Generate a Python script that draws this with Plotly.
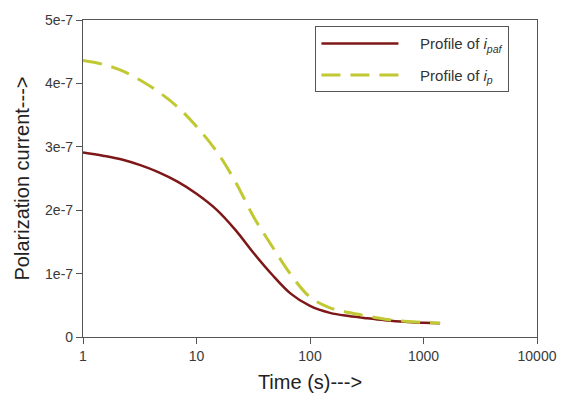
import plotly.graph_objects as go

# Time (s) and polarization current values
t_paf = [1, 1.5, 2.2, 3.2, 4.6, 6.8, 10, 15, 22, 32, 46, 68, 100, 150, 220, 320, 460, 680, 1000, 1400]
i_paf = [2.91e-7, 2.86e-7, 2.80e-7, 2.71e-7, 2.60e-7, 2.45e-7, 2.26e-7, 2.01e-7,
         1.69e-7, 1.32e-7, 0.99e-7, 0.68e-7, 0.49e-7, 0.38e-7, 0.33e-7, 0.295e-7,
         0.265e-7, 0.24e-7, 0.225e-7, 0.215e-7]

t_p = [1, 1.5, 2.2, 3.2, 4.6, 6.8, 10, 15, 22, 32, 46, 68, 100, 150, 220, 320, 460, 680, 1000, 1400]
i_p = [4.36e-7, 4.30e-7, 4.20e-7, 4.05e-7, 3.87e-7, 3.63e-7, 3.32e-7, 2.93e-7,
       2.45e-7, 1.89e-7, 1.44e-7, 0.98e-7, 0.63e-7, 0.46e-7, 0.385e-7, 0.33e-7,
       0.28e-7, 0.25e-7, 0.23e-7, 0.22e-7]

x_ticks = [1, 10, 100, 1000, 10000]
x_tick_labels = ["1", "10", "100", "1000", "10000"]
y_ticks = [0, 1e-7, 2e-7, 3e-7, 4e-7, 5e-7]
y_tick_labels = ["0", "1e-7", "2e-7", "3e-7", "4e-7", "5e-7"]

fig = go.Figure()
fig.add_trace(go.Scatter(
    x=t_paf, y=i_paf, mode="lines", line_shape="spline", legendgroup="a",
    name="\u00a0\u00a0\u00a0\u00a0Profile of <i>i</i><sub><i>paf</i></sub>",
    line=dict(color="#7E1818", width=2.5, smoothing=1)))
fig.add_trace(go.Scatter(
    x=t_p, y=i_p, mode="lines", line_shape="spline", legendgroup="b",
    name="\u00a0\u00a0\u00a0\u00a0Profile of <i>i</i><sub><i>p</i></sub>",
    line=dict(color="#C0C832", width=3, dash="19px,10px", smoothing=1)))

axis_font = dict(family="Liberation Sans, Arial, sans-serif", size=14, color="#3a3a3a")
fig.update_layout(
    width=569, height=402,
    margin=dict(l=83, r=22, t=13, b=65),
    paper_bgcolor="white", plot_bgcolor="white",
    font=dict(family="Liberation Sans, Arial, sans-serif", color="#222222"),
    xaxis=dict(type="log", range=[0, 4], tickvals=x_ticks, ticktext=x_tick_labels,
               ticks="outside", ticklen=6, tickcolor="#555555", showgrid=False,
               zeroline=False, showline=True, linecolor="#555555", linewidth=1.2,
               mirror=True, tickfont=axis_font,
               title=dict(text="Time (s)--->", font=dict(size=20, color="#222222"), standoff=12)),
    yaxis=dict(range=[0, 5e-7], tickvals=y_ticks, ticktext=y_tick_labels,
               ticks="outside", ticklen=6, tickcolor="#555555", showgrid=False,
               zeroline=False, showline=True, linecolor="#555555", linewidth=1.2,
               mirror=True, tickfont=axis_font,
               title=dict(text="Polarization current--->", font=dict(size=20, color="#222222"), standoff=10)),
    legend=dict(x=0.512, y=0.98, xanchor="left", yanchor="top",
                bgcolor="white", bordercolor="#555555", borderwidth=1,
                font=dict(size=15, color="#333333"), itemwidth=77,
                tracegroupgap=9),
    showlegend=True,
)

fig.write_html("out.html")
